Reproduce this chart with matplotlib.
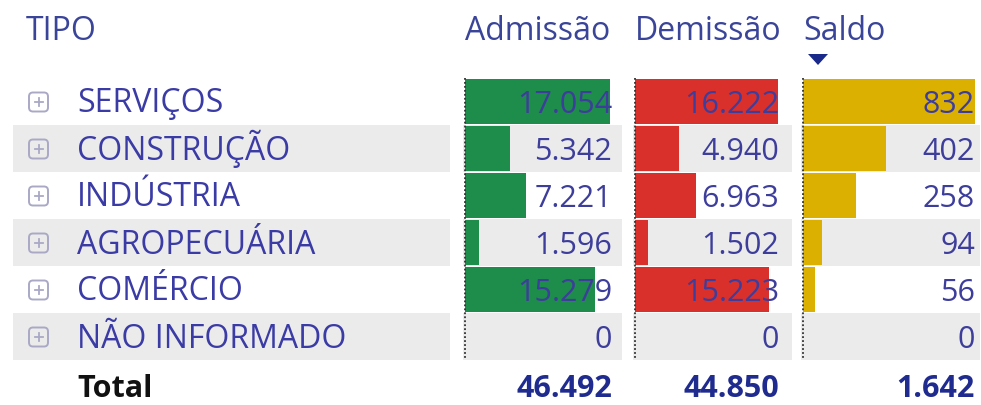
import matplotlib
matplotlib.use("Agg")
import matplotlib.pyplot as plt
from matplotlib.patches import FancyBboxPatch, Rectangle, Polygon

plt.rcParams['font.family'] = ['Open Sans', 'DejaVu Sans']

# ---- data ----
categories = ["SERVIÇOS", "CONSTRUÇÃO", "INDÚSTRIA", "AGROPECUÁRIA", "COMÉRCIO", "NÃO INFORMADO"]
admissao = [17054, 5342, 7221, 1596, 15279, 0]
demissao = [16222, 4940, 6963, 1502, 15223, 0]
saldo = [832, 402, 258, 94, 56, 0]
headers = ["Admissão", "Demissão", "Saldo"]
label_header = "TIPO"
total_label = "Total"
totals = [46492, 44850, 1642]


def fmt(v):
    return f"{v:,}".replace(",", ".")


W, H = 981, 405
fig = plt.figure(figsize=(W / 100, H / 100), dpi=100)
fig.patch.set_facecolor("white")

# layout (pixels)
row_top = 78
row_h = 47
n = len(categories)
col_x0 = [465, 635, 803]          # bar origins
col_bar_w = [145, 143, 172]       # width of largest bar
col_cell = [(463, 622), (633, 792), (801, 980)]
val_right = [612, 779, 975]
colors = ["#1e8c4a", "#d9302c", "#dcb000"]
series = [admissao, demissao, saldo]

txt_blue = "#3b3ba6"
val_blue = "#3d3d9c"
hdr_blue = "#3a4599"
tot_blue = "#1f2b8e"
grey = "#ebebeb"

# background axes in pixel coords
bg = fig.add_axes([0, 0, 1, 1])
bg.set_xlim(0, W)
bg.set_ylim(H, 0)
bg.axis("off")

for i in range(n):
    if i % 2 == 1:
        y0 = row_top + i * row_h
        bg.add_patch(Rectangle((13, y0), 450 - 13, row_h, color=grey, lw=0))
        for (a, b) in col_cell:
            bg.add_patch(Rectangle((a, y0), b - a, row_h, color=grey, lw=0))

# bar axes
for c in range(3):
    left = col_x0[c] / W
    width = col_bar_w[c] / W
    bottom = 1 - (row_top + n * row_h) / H
    height = n * row_h / H
    ax = fig.add_axes([left, bottom, width, height])
    ax.patch.set_alpha(0)
    ax.axis("off")
    ax.set_xlim(0, max(series[c]))
    ax.set_ylim(n - 0.5, -0.5)
    ax.barh(range(n), series[c], height=0.94, color=colors[c], lw=0)

# overlay axes for text and lines
ov = fig.add_axes([0, 0, 1, 1])
ov.set_xlim(0, W)
ov.set_ylim(H, 0)
ov.axis("off")
ov.patch.set_alpha(0)

fs = 23
fsv = 22
# headers
hy = 40
ov.text(26, hy, label_header, fontsize=fs, color=hdr_blue, ha="left", va="baseline")
for c in range(3):
    ov.text(col_x0[c], hy, headers[c], fontsize=fs, color=hdr_blue, ha="left", va="baseline")
# sort arrow under Saldo
ov.add_patch(Polygon([[808, 54], [828, 54], [818, 65]], closed=True, color="#1a2a8a", lw=0))

for i, cat in enumerate(categories):
    yc = row_top + i * row_h + row_h / 2
    ov.add_patch(FancyBboxPatch((29, yc - 9), 19, 19, boxstyle="round,pad=0,rounding_size=4",
                                fc="none", ec="#a9a9c6", lw=1.4))
    ov.plot([34.5, 42.5], [yc + 0.5, yc + 0.5], color="#a9a9c6", lw=1.3)
    ov.plot([38.5, 38.5], [yc - 3.5, yc + 4.5], color="#a9a9c6", lw=1.3)
    ov.text(77, yc + 11, cat, fontsize=fs, color=txt_blue, ha="left", va="baseline")
    for c in range(3):
        ov.text(val_right[c], yc + 11.5, fmt(series[c][i]), fontsize=fsv, color=val_blue,
                ha="right", va="baseline")

# dotted baselines
for c in range(3):
    ov.plot([col_x0[c], col_x0[c]], [row_top, row_top + n * row_h], color="#333333",
            lw=1.3, ls=(0, (1, 1.2)))

# totals
ty = 397
ov.text(77, ty, total_label, fontsize=fsv, color="#111111", fontweight="bold", ha="left", va="baseline")
for c in range(3):
    ov.text(val_right[c], ty, fmt(totals[c]), fontsize=fsv, color=tot_blue, fontweight="bold",
            ha="right", va="baseline")

fig.savefig("out.png", dpi=100)
